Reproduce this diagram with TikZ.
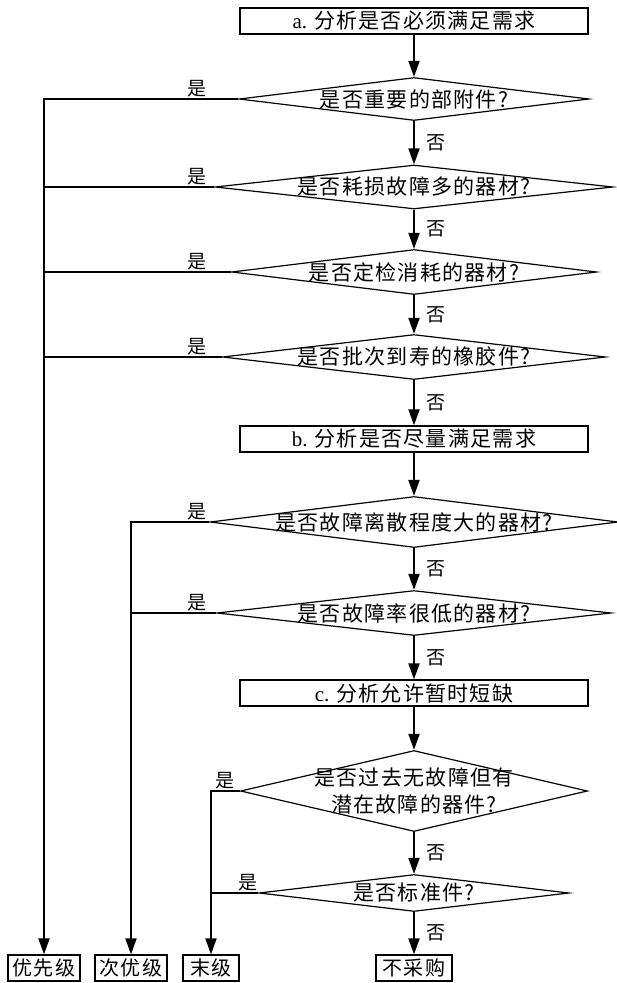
\documentclass[tikz,border=0pt]{standalone}
\usepackage{fontspec}
\setmainfont{Liberation Serif}
\newfontfamily\cjk[LetterSpace=6]{Noto Sans CJK SC}
\usepackage{tikz}
\usetikzlibrary{shapes.geometric}
\usetikzlibrary{arrows.meta}
\tikzstyle{stepbox}=[draw, line width=1.3pt, minimum width=348pt, minimum height=26pt, inner sep=0pt, font=\fontsize{21}{25}\selectfont]
\tikzstyle{decision}=[draw, diamond, line width=1.2pt, inner sep=0pt]
\tikzstyle{endbox}=[draw, line width=1.3pt, minimum height=26pt, inner sep=0pt, font=\cjk\fontsize{20}{24}\selectfont]
\tikzstyle{answer}=[inner sep=0pt, font=\cjk\fontsize{19}{21}\selectfont]
\tikzstyle{flow}=[line width=1.8pt, -{Triangle[length=16pt,width=11pt]}]
\tikzstyle{branch}=[line width=1.8pt]

\begin{document}
\begin{tikzpicture}[x=1pt, y=-1pt,
    every label/.style={inner sep=0pt, align=center, font=\cjk\fontsize{21}{27}\selectfont}]
            \useasboundingbox (0,0) rectangle (617,983);

            \node[stepbox] (a) at (414,21) {a. {\cjk 分析是否必须满足需求}};
            \node[decision, minimum width=350pt, minimum height=43pt, label=center:{是否重要的部附件?}] (d1) at (414,99) {};
            \node[decision, minimum width=398pt, minimum height=44pt, label=center:{是否耗损故障多的器材?}] (d2) at (414,187) {};
            \node[decision, minimum width=365pt, minimum height=45pt, label=center:{是否定检消耗的器材?}] (d3) at (414,272) {};
            \node[decision, minimum width=383pt, minimum height=45pt, label=center:{是否批次到寿的橡胶件?}] (d4) at (414,357) {};
            \node[stepbox] (b) at (414,439) {b. {\cjk 分析是否尽量满足需求}};
            \node[decision, minimum width=408pt, minimum height=51pt, label=center:{是否故障离散程度大的器材?}] (d5) at (414,522) {};
            \node[decision, minimum width=394pt, minimum height=45pt, label=center:{是否故障率很低的器材?}] (d6) at (414,613) {};
            \node[stepbox] (c) at (414,693) {c. {\cjk 分析允许暂时短缺}};
            \node[decision, minimum width=347pt, minimum height=81pt, label=center:{是否过去无故障但有\\潜在故障的器件?}] (d7) at (414,791) {};
            \node[decision, minimum width=310pt, minimum height=37pt, label=center:{是否标准件?}] (d8) at (414,893) {};

            \node[endbox, minimum width=72pt] (lv1) at (44,968) {优先级};
            \node[endbox, minimum width=72pt] (lv2) at (131,968) {次优级};
            \node[endbox, minimum width=56pt] (lv3) at (211,968) {末级};
            \node[endbox, minimum width=76pt] (none) at (414,968) {不采购};

            \node[answer, anchor=south] (y1) at (197,97) {是};
            \node[answer, anchor=south] (y2) at (197,185) {是};
            \node[answer, anchor=south] (y3) at (197,270) {是};
            \node[answer, anchor=south] (y4) at (197,355) {是};
            \node[answer, anchor=south] (y5) at (197,520) {是};
            \node[answer, anchor=south] (y6) at (197,611) {是};
            \node[answer, anchor=south] (y7) at (225,789) {是};
            \node[answer, anchor=south] (y8) at (248,891) {是};

            \draw[flow] (a) -- (d1);
            \draw[flow] (d1) -- node[answer, right=12pt] {否} (d2);
            \draw[flow] (d2) -- node[answer, right=12pt] {否} (d3);
            \draw[flow] (d3) -- node[answer, right=12pt] {否} (d4);
            \draw[flow] (d4) -- node[answer, right=12pt] {否} (b);
            \draw[flow] (b) -- (d5);
            \draw[flow] (d5) -- node[answer, right=12pt] {否} (d6);
            \draw[flow] (d6) -- node[answer, right=12pt] {否} (c);
            \draw[flow] (c) -- (d7);
            \draw[flow] (d7) -- node[answer, right=12pt] {否} (d8);
            \draw[flow] (d8) -- node[answer, right=12pt] {否} (none);

            \draw[flow] (d1.west) -- (d1.west -| lv1) -- (lv1);
            \draw[branch] (d2.west) -- (d2.west -| lv1);
            \draw[branch] (d3.west) -- (d3.west -| lv1);
            \draw[branch] (d4.west) -- (d4.west -| lv1);
            \draw[flow] (d5.west) -- (d5.west -| lv2) -- (lv2);
            \draw[branch] (d6.west) -- (d6.west -| lv2);
            \draw[flow] (d7.west) -- (d7.west -| lv3) -- (lv3);
            \draw[branch] (d8.west) -- (d8.west -| lv3);
        \end{tikzpicture}
\end{document}
